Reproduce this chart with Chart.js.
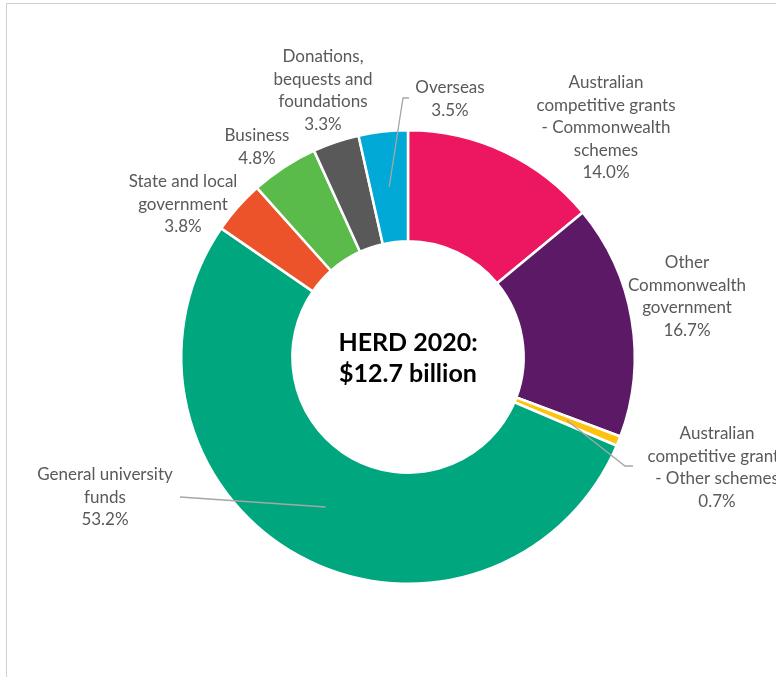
<!DOCTYPE html>
<html>
<head>
<meta charset="utf-8">
<script src="https://cdn.jsdelivr.net/npm/chart.js@4/dist/chart.umd.min.js"></script>
<style>
  html, body { margin: 0; padding: 0; background: #fff; overflow: hidden; }
  #wrap { position: relative; width: 776px; height: 677px; }
  #frame {
    position: absolute; left: 6px; top: 3px; width: 800px; height: 700px;
    border-left: 1px solid #d0d0d0; border-top: 1px solid #d0d0d0;
    pointer-events: none;
  }
</style>
</head>
<body>
<div id="wrap">
  <canvas id="herd-chart" width="776" height="677"></canvas>
  <div id="frame"></div>
</div>
<script>
const categories = [
  "Australian competitive grants - Commonwealth schemes",
  "Other Commonwealth government",
  "Australian competitive grants - Other schemes",
  "General university funds",
  "State and local government",
  "Business",
  "Donations, bequests and foundations",
  "Overseas",
];
const shares = [14.0, 16.7, 0.7, 53.2, 3.8, 4.8, 3.3, 3.5];
const labelLines = [
  ["Australian", "competitive grants", "- Commonwealth", "schemes"],
  ["Other", "Commonwealth", "government"],
  ["Australian", "competitive grants", "- Other schemes"],
  ["General university", "funds"],
  ["State and local", "government"],
  ["Business"],
  ["Donations,", "bequests and", "foundations"],
  ["Overseas"],
];
const centreText = ["HERD 2020:", "$12.7 billion"];

const colours = ["#ED1660", "#5C1A66", "#FFC20E", "#00A77E", "#EC532B", "#5BBB4A", "#595959", "#00A9D6"];

// label block positions (centre of first line) and leader elbows
const labelPos = [[606, 83], [687, 263], [717, 434], [105, 475], [183, 182], [257, 136], [323, 57], [450, 88]];
const leaders = {
  2: [[633, 466], [625, 466]],
  3: [[180, 497]],
  7: [[409, 98], [403, 98]],
};

const LINE_H = 22.4;

const labelPlugin = {
  id: "outerLabels",
  afterDatasetsDraw(chart) {
    const ctx = chart.ctx;
    const arcs = chart.getDatasetMeta(0).data;
    ctx.save();

    // leader lines into the middle of the ring
    ctx.strokeStyle = "#a6a6a6";
    ctx.lineWidth = 1.3;
    Object.keys(leaders).forEach((k) => {
      const arc = arcs[k];
      const p = arc.getProps(["x", "y", "startAngle", "endAngle", "innerRadius", "outerRadius"], true);
      const mid = (p.startAngle + p.endAngle) / 2;
      const r = (p.innerRadius + p.outerRadius) / 2;
      const pts = leaders[k];
      ctx.beginPath();
      ctx.moveTo(pts[0][0], pts[0][1]);
      for (let i = 1; i < pts.length; i++) ctx.lineTo(pts[i][0], pts[i][1]);
      ctx.lineTo(p.x + Math.cos(mid) * r, p.y + Math.sin(mid) * r);
      ctx.stroke();
    });

    // category labels
    ctx.fillStyle = "#595959";
    ctx.font = "17px Lato, 'Open Sans', sans-serif";
    ctx.textAlign = "center";
    ctx.textBaseline = "middle";
    labelLines.forEach((lines, i) => {
      const all = lines.concat([shares[i].toFixed(1) + "%"]);
      all.forEach((t, j) => {
        ctx.fillText(t, labelPos[i][0], labelPos[i][1] + j * LINE_H);
      });
    });

    // centre title
    const a = arcs[0];
    ctx.fillStyle = "#000";
    ctx.font = "bold 25px Lato, 'Open Sans', sans-serif";
    ctx.fillText(centreText[0], a.x, a.y - 14);
    ctx.fillText(centreText[1], a.x, a.y + 17);
    ctx.restore();
  },
};

new Chart(document.getElementById("herd-chart").getContext("2d"), {
  type: "doughnut",
  data: {
    labels: categories,
    datasets: [
      {
        data: shares,
        backgroundColor: colours,
        borderColor: "#ffffff",
        borderWidth: 2.5,
      },
    ],
  },
  options: {
    responsive: false,
    animation: false,
    cutout: "51%",
    layout: {
      padding: { top: 129, bottom: 92, left: 180, right: 140 },
    },
    plugins: {
      legend: { display: false },
      tooltip: { enabled: false },
    },
  },
  plugins: [labelPlugin],
});
</script>
</body>
</html>
